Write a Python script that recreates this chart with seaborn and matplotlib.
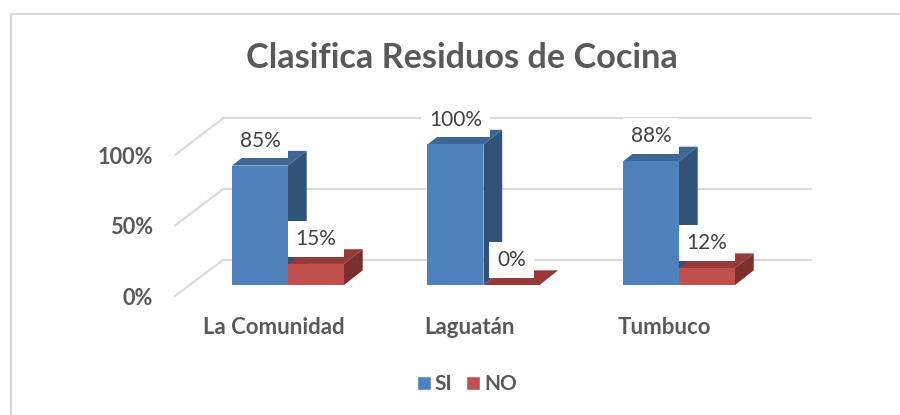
import matplotlib
matplotlib.use("Agg")
import matplotlib.pyplot as plt
import pandas as pd
import seaborn as sns
from matplotlib.lines import Line2D
from matplotlib.patches import Polygon, Patch
from matplotlib.transforms import ScaledTranslation

categories = ["La Comunidad", "Laguatán", "Tumbuco"]
si_values = [85, 100, 88]
no_values = [15, 0, 12]
series_names = ["SI", "NO"]
y_ticks = [0, 50, 100]
title = "Clasifica Residuos de Cocina"

W, H = 900, 415
GREY = "#595959"
LIGHT = "#D9D9D9"
FACE = {"SI": "#4F81BD", "NO": "#C0504D"}
TOP = {"SI": "#3E6797", "NO": "#953A38"}
SIDE = {"SI": "#325379", "NO": "#7A2F2D"}

sns.set_theme(style="white")
plt.rcParams["font.family"] = ["Lato", "DejaVu Sans"]


def box(left, top, right, bottom):
    return [left / W, 1 - bottom / H, (right - left) / W, (bottom - top) / H]


fig = plt.figure(figsize=(W / 100, H / 100), dpi=100, facecolor="white")

# outer frame of the chart
fig.add_artist(Line2D([11 / W, 11 / W, 1], [0, 1 - 14 / H, 1 - 14 / H],
                      color=LIGHT, lw=1.6, transform=fig.transFigure))

# back wall, carrying the grid
ax_wall = fig.add_axes(box(223, 118.3, 811, 260))
ax_wall.set_ylim(0, 100)
ax_wall.set_xlim(0, 1)
ax_wall.set_yticks(y_ticks)
ax_wall.set_xticks([])
ax_wall.set_yticklabels([])
ax_wall.tick_params(length=0)
ax_wall.grid(axis="y", color=LIGHT, lw=1.5)
ax_wall.patch.set_alpha(0)
sns.despine(ax=ax_wall, left=True, bottom=True)
for g in ax_wall.get_ygridlines():
    g.set_clip_on(False)

# front edge of the side wall, carrying the value labels
ax_front = fig.add_axes(box(175, 155, 223, 296))
ax_front.set_ylim(0, 100)
ax_front.set_xlim(0, 1)
ax_front.set_xticks([])
ax_front.set_yticks(y_ticks)
ax_front.set_yticklabels([f"{v}%" for v in y_ticks], fontweight="bold",
                         fontsize=15.7, color=GREY)
ax_front.tick_params(axis="y", length=0, pad=16)
ax_front.patch.set_alpha(0)
sns.despine(ax=ax_front, left=True, bottom=True)

# receding side-wall lines, joining the two scales
for v in y_ticks:
    p0 = ax_front.transData.transform((0, v))
    p1 = ax_wall.transData.transform((0, ax_wall.get_ylim()[0] + v))
    p1 = (ax_wall.transAxes.transform((0, 0))[0], p1[1])
    fig.add_artist(Line2D([p0[0], p1[0]], [p0[1], p1[1]], color=LIGHT, lw=1.5,
                          transform=None))

# bars
df = pd.DataFrame({
    "cat": categories * 2,
    "serie": [series_names[0]] * 3 + [series_names[1]] * 3,
    "val": si_values + no_values,
})
ax = fig.add_axes(box(175, 144.5, 811, 285))
ax.patch.set_alpha(0)
sns.barplot(data=df, x="cat", y="val", hue="serie", hue_order=series_names,
            palette=FACE, width=0.573, gap=0, legend=False, ax=ax,
            saturation=1, linewidth=0, zorder=4, clip_on=False)
ax.set_ylim(0, 100)
px_per_cat = 195.5
ax.set_xlim(-(288 - 175) / px_per_cat, (811 - 288) / px_per_cat)
ax.set_xlabel("")
ax.set_ylabel("")
ax.set_yticks([])
sns.despine(ax=ax, left=True, bottom=True)
ax.tick_params(axis="x", length=0, pad=23)
ax.set_xticks(range(len(categories)))
ax.set_xticklabels(categories, fontweight="bold", fontsize=16, color=GREY)
shift = ScaledTranslation(-14.5 / 100, 0, fig.dpi_scale_trans)
for lab in ax.get_xticklabels():
    lab.set_transform(lab.get_transform() + shift)

# depth faces built from each seaborn bar
dx = 18.7 / px_per_cat
dy = 14.7 / 1.405
for container, name in zip(ax.containers, series_names):
    for bar in container:
        x0, w, h = bar.get_x(), bar.get_width(), bar.get_height()
        x1 = x0 + w
        ax.add_patch(Polygon([(x0, h), (x1, h), (x1 + dx, h + dy), (x0 + dx, h + dy)],
                             facecolor=TOP[name], lw=0, zorder=3, clip_on=False))
        if h > 0:
            ax.add_patch(Polygon([(x1, 0), (x1 + dx, dy), (x1 + dx, h + dy), (x1, h)],
                                 facecolor=SIDE[name], lw=0, zorder=3, clip_on=False))

# data labels
for container in ax.containers:
    for bar in container:
        ax.annotate(f"{bar.get_height():.0f}%",
                    (bar.get_x() + bar.get_width() / 2, bar.get_height()),
                    xytext=(0, 18), textcoords="offset points",
                    ha="center", va="center", fontsize=15, color="#404040",
                    bbox=dict(boxstyle="square,pad=0.38", fc="white", ec="none"),
                    zorder=6, annotation_clip=False)

# legend
handles = [Patch(facecolor=FACE[n], label=n) for n in series_names]
fig.legend(handles=handles, loc="center", bbox_to_anchor=(467 / W, 1 - 384 / H),
           ncol=2, frameon=False, handlelength=0.68, handleheight=0.68,
           handletextpad=0.2, columnspacing=0.65,
           prop={"weight": "bold", "size": 15}, labelcolor=GREY)

fig.text(461.5 / W, 1 - 58 / H, title, ha="center", va="center",
         fontsize=24.7, fontweight="bold", color=GREY)

fig.savefig("out.png", dpi=100)
